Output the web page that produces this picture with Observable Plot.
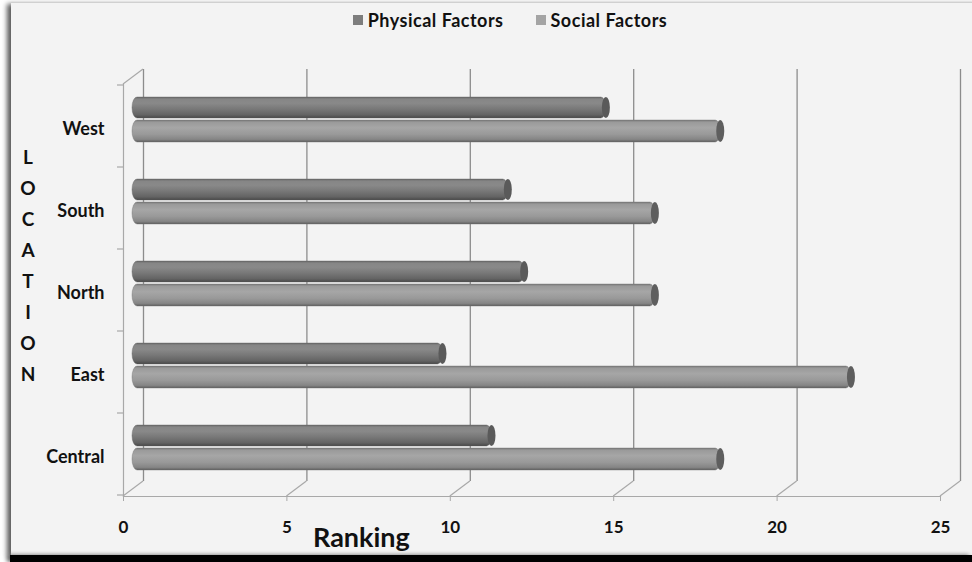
<!DOCTYPE html>
<html><head><meta charset="utf-8">
<script src="https://cdn.jsdelivr.net/npm/d3@7"></script>
<script src="https://cdn.jsdelivr.net/npm/@observablehq/plot@0.6"></script>
<style>
html,body{margin:0;padding:0;background:#fff;}
#wrap{position:relative;width:972px;height:562px;overflow:hidden;font-family:Lato,"Open Sans",sans-serif;}
#card{position:absolute;left:11px;top:3px;right:-10px;height:552px;background:#f3f3f3;box-shadow:-4px 1px 5px rgba(0,0,0,0.65);}
#bottombar{position:absolute;left:10px;top:555px;right:0;height:7px;background:#000;box-shadow:-3px 0 4px rgba(0,0,0,0.6);}
#chart{position:absolute;left:0;top:0;}
#legend{position:absolute;top:9px;left:48px;width:924px;display:flex;justify-content:center;}
#legend .lg-swatches{font-family:Lato,sans-serif;font-size:18px;letter-spacing:0.5px;font-weight:bold;color:#111;margin:0;}
#legend .lg-swatches-wrap{min-height:22px;}
#legend .lg-swatch{margin-right:32px;}
#legend .lg-swatch:last-child{margin-right:0;}
#legend .lg-swatch > svg{margin-right:5px;}
#ylab{position:absolute;left:16px;top:141px;width:24px;text-align:center;font-weight:bold;font-size:19px;line-height:31px;color:#111;}
#xlab{position:absolute;left:313px;top:523px;font-weight:bold;font-size:27px;line-height:27px;color:#111;}
</style>
</head><body>
<svg width="0" height="0" style="position:absolute">
  <defs>
    <linearGradient id="gP" x1="0" y1="0" x2="0" y2="1">
      <stop offset="0" stop-color="#666"/>
      <stop offset="0.1" stop-color="#868686"/>
      <stop offset="0.3" stop-color="#898989"/>
      <stop offset="0.6" stop-color="#767676"/>
      <stop offset="0.85" stop-color="#636363"/>
      <stop offset="1" stop-color="#484848"/>
    </linearGradient>
    <linearGradient id="gS" x1="0" y1="0" x2="0" y2="1">
      <stop offset="0" stop-color="#777"/>
      <stop offset="0.1" stop-color="#9a9a9a"/>
      <stop offset="0.35" stop-color="#a6a6a6"/>
      <stop offset="0.65" stop-color="#999"/>
      <stop offset="0.88" stop-color="#858585"/>
      <stop offset="1" stop-color="#5e5e5e"/>
    </linearGradient>
  </defs>
</svg>
<div id="wrap">
  <div id="card"></div>
  <div id="bottombar"></div>
  <div id="chart"></div>
  <div id="legend"></div>
  <div id="ylab">L<br>O<br>C<br>A<br>T<br>I<br>O<br>N</div>
  <div id="xlab">Ranking</div>
</div>
<script>
const locations = ["West", "South", "North", "East", "Central"];
const physical = [14.5, 11.5, 12, 9.5, 11];
const social = [18, 16, 16, 22, 18];
const xTicks = [0, 5, 10, 15, 20, 25];
const series = ["Physical Factors", "Social Factors"];
const legendColors = ["#7d7d7d", "#a4a4a4"];

const rows = locations.map((loc, i) => ({loc, physical: physical[i], social: social[i]}));

const DX = 9, DY = -8;    // bars sit at mid depth
const BX = 20, BY = -15;  // back wall offset

const chart = Plot.plot({
  width: 972, height: 562,
  marginLeft: 123, marginRight: 32, marginTop: 84, marginBottom: 66,
  style: {background: "transparent", fontFamily: "Lato, sans-serif", overflow: "visible"},
  x: {domain: [0, 25], axis: null},
  y: {domain: locations, padding: 0, axis: null},
  marks: [
    Plot.ruleX(xTicks, {x: d => d, dx: BX, dy: BY, stroke: "#8c8c8c", strokeWidth: 1.3}),
    Plot.frame({anchor: "bottom", stroke: "#a8a8a8", strokeWidth: 1.2}),
    Plot.frame({anchor: "left", stroke: "#a8a8a8", strokeWidth: 1.2}),
    Plot.axisX({ticks: xTicks, tickSize: 5, tickPadding: 19, stroke: "#a8a8a8", fill: "#111", fontSize: 17, fontWeight: "bold", label: null}),
    Plot.axisY({ticks: locations, tickSize: 0, tickPadding: 19, fill: "#111", fontSize: 18, fontWeight: "bold", letterSpacing: 0.5, label: null, dy: 3}),
    Plot.barX(rows, {y: "loc", x: "physical", insetTop: 20, insetBottom: 41, dx: DX, dy: DY, rx: 5, ry: 11, fill: "url(#gP)", stroke: "#606060", strokeWidth: 0.4}),
    Plot.barX(rows, {y: "loc", x: "social", insetTop: 43, insetBottom: 17, dx: DX, dy: DY, rx: 5, ry: 11, fill: "url(#gS)", stroke: "#707070", strokeWidth: 0.4}),
    Plot.barX(rows, {y: "loc", x1: "physical", x2: "physical", insetLeft: -4, insetRight: -4, insetTop: 20, insetBottom: 41, dx: DX, dy: DY, rx: 4, ry: 11, fill: "#5a5a5a"}),
    Plot.barX(rows, {y: "loc", x1: "social", x2: "social", insetLeft: -4, insetRight: -4, insetTop: 43, insetBottom: 17, dx: DX, dy: DY, rx: 4, ry: 11, fill: "#5e5e5e"})
  ]
});
document.getElementById("chart").appendChild(chart);

// perspective edges and category boundary ticks, derived from the plot's own scales
const sx = chart.scale("x"), sy = chart.scale("y");
const yTop = sy.range[0], yBottom = sy.range[1];
const g = d3.select(chart).append("g").attr("stroke", "#a8a8a8").attr("stroke-width", 1.2).attr("fill", "none");
xTicks.forEach(t => {
  const px = sx.apply(t);
  g.append("line").attr("x1", px).attr("y1", yBottom).attr("x2", px + BX).attr("y2", yBottom + BY);
});
const x0 = sx.apply(0);
g.append("line").attr("x1", x0).attr("y1", yTop).attr("x2", x0 + BX).attr("y2", yTop + BY);
const bounds = locations.map(l => sy.apply(l)).concat([sy.apply(locations[locations.length - 1]) + sy.bandwidth]);
bounds.forEach(b => {
  g.append("line").attr("x1", x0 - 6).attr("y1", b).attr("x2", x0).attr("y2", b);
});

const leg = Plot.legend({color: {type: "categorical", domain: series, range: legendColors}, swatchSize: 10, className: "lg"});
document.getElementById("legend").appendChild(leg);
</script>
</body></html>
